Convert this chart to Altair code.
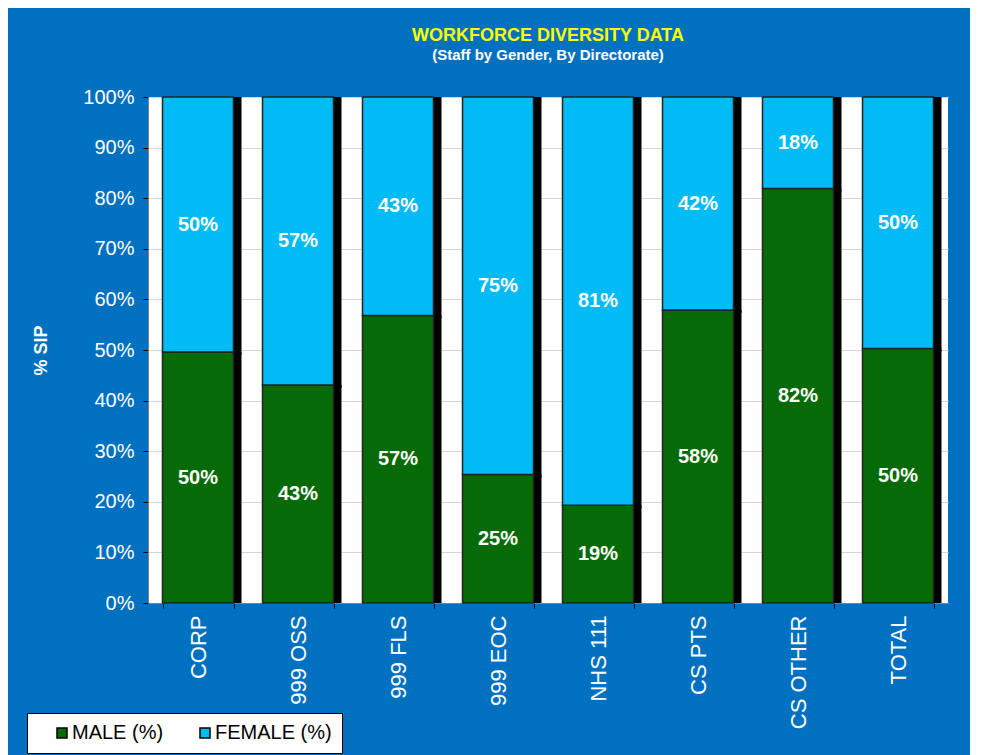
import altair as alt
import pandas as pd

categories = ["CORP", "999 OSS", "999 FLS", "999 EOC", "NHS 111", "CS PTS", "CS OTHER", "TOTAL"]
male = [49.6, 43.1, 56.8, 25.4, 19.3, 57.9, 81.9, 50.3]
female = [50.4, 56.9, 43.2, 74.6, 80.7, 42.1, 18.1, 49.7]
series = ["MALE (%)", "FEMALE (%)"]
colors = ["#066b06", "#00bbf5"]
y_ticks = [0, 10, 20, 30, 40, 50, 60, 70, 80, 90, 100]

rows = []
for c, m, f in zip(categories, male, female):
    rows.append({"cat": c, "series": series[0], "value": m, "ord": 0})
    rows.append({"cat": c, "series": series[1], "value": f, "ord": 1})
df = pd.DataFrame(rows)

FONT = "Liberation Sans"

base = alt.Chart(df).transform_stack(
    stack="value", groupby=["cat"], sort=[alt.SortField("ord", order="ascending")], as_=["v0", "v1"]
).transform_calculate(
    mid="(datum.v0 + datum.v1) / 2",
    label="format(datum.value, '.0f') + '%'",
)

x_scale = alt.Scale(paddingInner=0.29, paddingOuter=0.145)
y_scale = alt.Scale(domain=[0, 100], nice=False)

x_axis = alt.Axis(
    title=None, labelAngle=-90, labelFontSize=22, labelColor="white", labelFont=FONT,
    labelPadding=7, tickBand="extent", tickColor="black", tickSize=5,
    domainColor="#808080", grid=False,
)
y_axis = alt.Axis(
    values=y_ticks, labelExpr="datum.value + '%'", title="% SIP", titleColor="white",
    titleFont=FONT, titleFontSize=18, titleFontWeight="bold", titlePadding=32,
    gridColor="#d4d4d4", tickColor="black", tickSize=5, domainColor="#808080",
    labelFontSize=20, labelColor="white", labelFont=FONT, labelPadding=9,
)

X = alt.X("cat:N", sort=categories, scale=x_scale, axis=x_axis)

shadow = base.mark_bar(color="black", xOffset=8, yOffset=3, clip=True).encode(
    x=X,
    y=alt.Y("v0:Q", scale=y_scale, axis=y_axis),
    y2="v1:Q",
)

bars = base.mark_bar(stroke="#222222", strokeWidth=1.5, opacity=1).encode(
    x=X,
    y=alt.Y("v0:Q", scale=y_scale, axis=y_axis),
    y2="v1:Q",
    color=alt.Color(
        "series:N",
        scale=alt.Scale(domain=series, range=colors),
        legend=alt.Legend(
            orient="none", legendX=-121, legendY=616, direction="horizontal", title=None,
            fillColor="white", strokeColor="black", padding=10, symbolType="square",
            symbolSize=100, symbolStrokeColor="black", symbolStrokeWidth=1.5, symbolOpacity=1,
            labelFontSize=20, labelColor="black", labelFont=FONT, columnPadding=16,
            symbolOffset=15, labelOffset=0, cornerRadius=0,
        ),
    ),
)

texts = base.mark_text(color="white", fontSize=20, fontWeight="bold", font=FONT).encode(
    x=X,
    y=alt.Y("mid:Q", scale=y_scale, axis=y_axis),
    text="label:N",
)

chart = alt.layer(shadow, bars, texts).properties(
    width=800,
    height=506,
    autosize=alt.AutoSizeParams(type="none"),
    padding={"left": 140, "top": 89, "right": 22, "bottom": 152},
    background="#0070c0",
    title=alt.TitleParams(
        "WORKFORCE DIVERSITY DATA",
        subtitle="(Staff by Gender, By Directorate)",
        color="#ffff00", fontSize=18, font=FONT, fontWeight="bold",
        subtitleColor="white", subtitleFontSize=15, subtitleFont=FONT,
        subtitleFontWeight="bold", anchor="middle", offset=24,
    ),
).configure_view(fill="white", stroke=None)

chart.save("out.html", embed_options={"renderer": "svg", "actions": False})
